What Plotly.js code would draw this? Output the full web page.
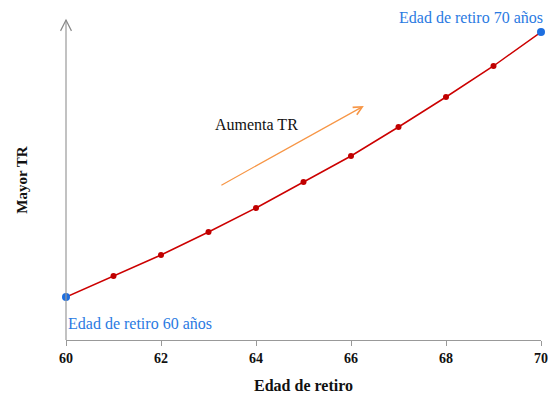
<!DOCTYPE html>
<html><head><meta charset="utf-8">
<script src="https://cdn.plot.ly/plotly-3.0.1.min.js"></script>
<style>html,body{margin:0;padding:0;background:#fff}#c{width:548px;height:401px}</style>
</head><body><div id="c"></div>
<script>
// Data
const edad = [60, 61, 62, 63, 64, 65, 66, 67, 68, 69, 70];
const tr = [43, 64, 85, 108, 132, 158, 184, 213, 243, 274, 308];
const xTicks = [60, 62, 64, 66, 68, 70];
const endEdad = [60, 70];
const endTr = [43, 308];
const labels = {
  x: "Edad de retiro", y: "Mayor TR", arrow: "Aumenta TR",
  start: "Edad de retiro 60 años", end: "Edad de retiro 70 años"
};

const serif = "Liberation Serif";
const blue = "#2a7ae2";

const traces = [
  {x: edad, y: tr, type: "scatter", mode: "lines+markers",
   line: {color: "#cc0000", width: 1.5},
   marker: {color: "#c00000", size: 6}, hoverinfo: "skip"},
  {x: endEdad, y: endTr, type: "scatter", mode: "markers",
   marker: {color: "#1e6fe0", size: 8}, cliponaxis: false, hoverinfo: "skip"}
];

const layout = {
  width: 548, height: 401,
  margin: {l: 66, r: 7, t: 20, b: 61},
  paper_bgcolor: "#fff", plot_bgcolor: "#fff",
  showlegend: false,
  font: {family: serif, color: "#000"},
  xaxis: {range: [60, 70], tickvals: xTicks, ticktext: xTicks.map(String),
    showgrid: false, zeroline: false, showline: true, linecolor: "#999", linewidth: 1.2,
    ticks: "outside", ticklen: 5, tickcolor: "#999",
    tickfont: {family: serif, size: 14, weight: "bold", color: "#111"},
    title: {text: labels.x, font: {family: serif, size: 16, weight: "bold", color: "#111"}, standoff: 14}},
  yaxis: {range: [0, 320], showticklabels: false, showgrid: false, zeroline: false,
    showline: false, ticks: "",
    title: {text: labels.y, font: {family: serif, size: 15, weight: "bold", color: "#111"}, standoff: 33}},
  shapes: [
    {type: "line", xref: "paper", yref: "paper", x0: 0, y0: 0, x1: 0, y1: 1,
     line: {color: "#999", width: 1.2}},
    {type: "path", xref: "paper", yref: "paper",
     path: "M -0.0115,0.966 L 0,1 L 0.0115,0.966",
     line: {color: "#888", width: 1.2}}
  ],
  annotations: [
    {x: 66.27, y: 234, ax: 63.24, ay: 154, xref: "x", yref: "y", axref: "x", ayref: "y",
     text: "", showarrow: true, arrowhead: 5, arrowsize: 1.4, arrowwidth: 1.2, arrowcolor: "#f79646"},
    {x: 64.0, y: 216, xref: "x", yref: "y", text: labels.arrow, showarrow: false,
     font: {family: serif, size: 16, color: "#111"}},
    {x: 0.853, y: 1.009, xref: "paper", yref: "paper", xanchor: "center", yanchor: "middle",
     text: labels.end, showarrow: false, font: {family: serif, size: 16, color: blue}},
    {x: 0.156, y: 0.053, xref: "paper", yref: "paper", xanchor: "center", yanchor: "middle",
     text: labels.start, showarrow: false, font: {family: serif, size: 16, color: blue}}
  ]
};

Plotly.newPlot("c", traces, layout, {displayModeBar: false, staticPlot: true});
</script></body></html>
